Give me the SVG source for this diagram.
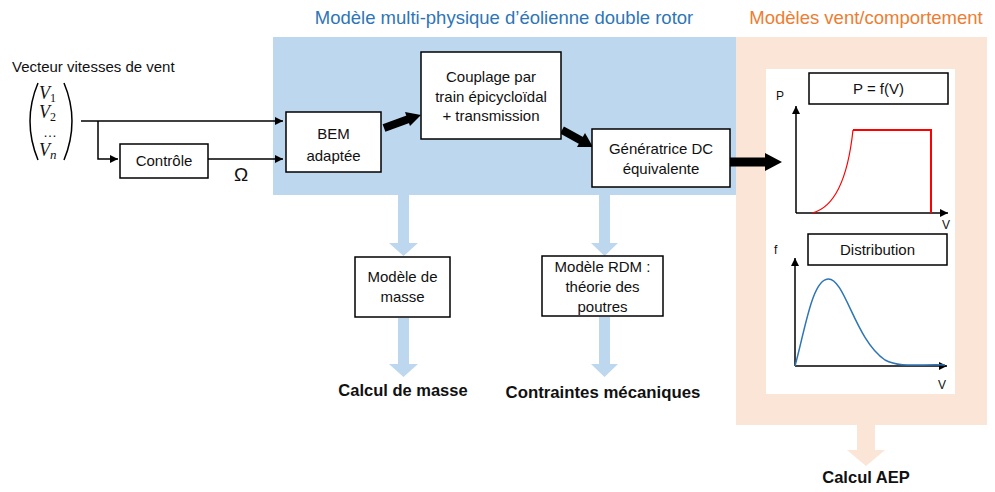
<svg xmlns="http://www.w3.org/2000/svg" width="995" height="492" viewBox="0 0 995 492">
<defs>
<style>
text{font-family:"Liberation Sans",Arial,sans-serif;font-size:15px;fill:#111}
.c{text-anchor:middle}
.box{fill:#fff;stroke:#000;stroke-width:1.5}
.ln{fill:none;stroke:#000;stroke-width:1.5}
.bold{font-weight:bold;font-size:16.5px}
.m{font-family:"Liberation Serif",serif;font-style:italic;font-size:18px}
.sub{font-family:"Liberation Serif",serif;font-size:12px}
.ax{font-size:12px}
</style>
<marker id="ah" viewBox="0 0 10 10" refX="10" refY="5" markerWidth="8" markerHeight="8" markerUnits="userSpaceOnUse" orient="auto"><path d="M0,0L10,5L0,10z" fill="#000"/></marker>
</defs>
<rect width="995" height="492" fill="#fff"/>
<g id="zones">
<rect x="273" y="37" width="463" height="158" fill="#BDD7EE"/>
<rect x="736" y="37" width="251" height="388" fill="#FBE5D6"/>
<rect x="766" y="69" width="189" height="325" fill="#fff"/>
<text x="504" y="24" class="c" style="font-size:18.5px;fill:#2E75B6">Modèle multi-physique d’éolienne double rotor</text>
<text x="866" y="24" class="c" style="font-size:18.5px;fill:#ED7D31">Modèles vent/comportement</text>
</g>
<g id="connectors">
<path class="ln" d="M81,121H283" marker-end="url(#ah)"/>
<path class="ln" d="M98,121V159H118" marker-end="url(#ah)"/>
<path class="ln" d="M208,159H283" marker-end="url(#ah)"/>
<path d="M384,128L410,118.5" stroke="#000" stroke-width="8" fill="none"/>
<path d="M405,112L421,115L410,126z" fill="#000"/>
<path d="M562,130L582,141" stroke="#000" stroke-width="8" fill="none"/>
<path d="M585,133L593,147L577,147z" fill="#000"/>
<path d="M730,162H766" stroke="#000" stroke-width="9" fill="none"/>
<path d="M765,153L782,162L765,171z" fill="#000"/>
<path d="M398,195H409V243H418L403.5,256L389,243H398z" fill="#BDD7EE"/>
<path d="M599,195H610V243H618L604.5,256L591,243H599z" fill="#BDD7EE"/>
<path d="M398,318H409V364H418L403.5,377L389,364H398z" fill="#BDD7EE"/>
<path d="M599,317H610V364H618L604.5,377L591,364H599z" fill="#BDD7EE"/>
<path d="M857,425H875V450H885L866,466L847,450H857z" fill="#FBE5D6"/>
</g>
<g id="input">
<text x="12" y="72">Vecteur vitesses de vent</text>
<path d="M38,83Q22,121 38,160" class="ln" stroke-width="1.2"/>
<path d="M64,83Q80,121 64,160" class="ln" stroke-width="1.2"/>
<text x="39" y="99" class="m">V<tspan class="sub" dy="3" style="font-style:normal">1</tspan></text>
<text x="39" y="118" class="m">V<tspan class="sub" dy="3" style="font-style:normal">2</tspan></text>
<text x="43" y="137" style="font-size:14px">…</text>
<text x="39" y="156" class="m">V<tspan class="sub" dy="3" style="font-style:italic;font-size:13px">n</tspan></text>
</g>
<g id="controle">
<rect class="box" x="120" y="144" width="88" height="34"/>
<text x="164" y="166" class="c">Contrôle</text>
<text x="241" y="181" class="c" style="font-size:19px">Ω</text>
</g>
<g id="bem">
<rect class="box" x="286" y="112" width="95" height="60"/>
<text x="333.5" y="139" class="c">BEM</text>
<text x="333.5" y="161" class="c">adaptée</text>
</g>
<g id="couplage">
<rect class="box" x="421" y="52" width="140" height="87"/>
<text x="491" y="82" class="c">Couplage par</text>
<text x="491" y="102" class="c">train épicycloïdal</text>
<text x="491" y="121" class="c">+ transmission</text>
</g>
<g id="generatrice">
<rect class="box" x="592" y="129" width="138" height="58"/>
<text x="661" y="154" class="c">Génératrice DC</text>
<text x="661" y="174" class="c">équivalente</text>
</g>
<g id="masse">
<rect class="box" x="355" y="257" width="95" height="60"/>
<text x="402.5" y="282" class="c">Modèle de</text>
<text x="402.5" y="302" class="c">masse</text>
</g>
<g id="rdm">
<rect class="box" x="542" y="256" width="121" height="60"/>
<text x="602.5" y="272" class="c">Modèle RDM :</text>
<text x="602.5" y="292" class="c">théorie des</text>
<text x="602.5" y="312" class="c">poutres</text>
</g>
<g id="outputs">
<text x="403" y="396" class="c bold">Calcul de masse</text>
<text x="603" y="398" class="c bold" style="font-size:16.8px">Contraintes mécaniques</text>
<text x="866" y="483" class="c bold">Calcul AEP</text>
</g>
<g id="courbe-puissance">
<rect class="box" x="809" y="73" width="139" height="31" stroke-width="1"/>
<text x="878.5" y="94" class="c">P = f(V)</text>
<text x="776" y="100" class="ax">P</text>
<path class="ln" d="M796,213V106" marker-end="url(#ah)"/>
<path class="ln" d="M796,213H948" marker-end="url(#ah)"/>
<text x="942" y="229" class="ax">V</text>
<path d="M812,213Q845,205 853,130" fill="none" stroke="#f00" stroke-width="1.2"/>
<path d="M853,130H931V213" fill="none" stroke="#f00" stroke-width="2"/>
</g>
<g id="distribution">
<rect class="box" x="808" y="234" width="139" height="31" stroke-width="1"/>
<text x="877.5" y="255" class="c">Distribution</text>
<text x="774" y="254" class="ax">f</text>
<path class="ln" d="M795,366V258" marker-end="url(#ah)"/>
<path class="ln" d="M795,366H947" marker-end="url(#ah)"/>
<text x="938" y="389" class="ax">V</text>
<path d="M795,366C805,330 812,280 828,279C845,278 855,340 885,360C900,368 920,364 945,365" fill="none" stroke="#2E75B6" stroke-width="1.5"/>
</g>
</svg>
